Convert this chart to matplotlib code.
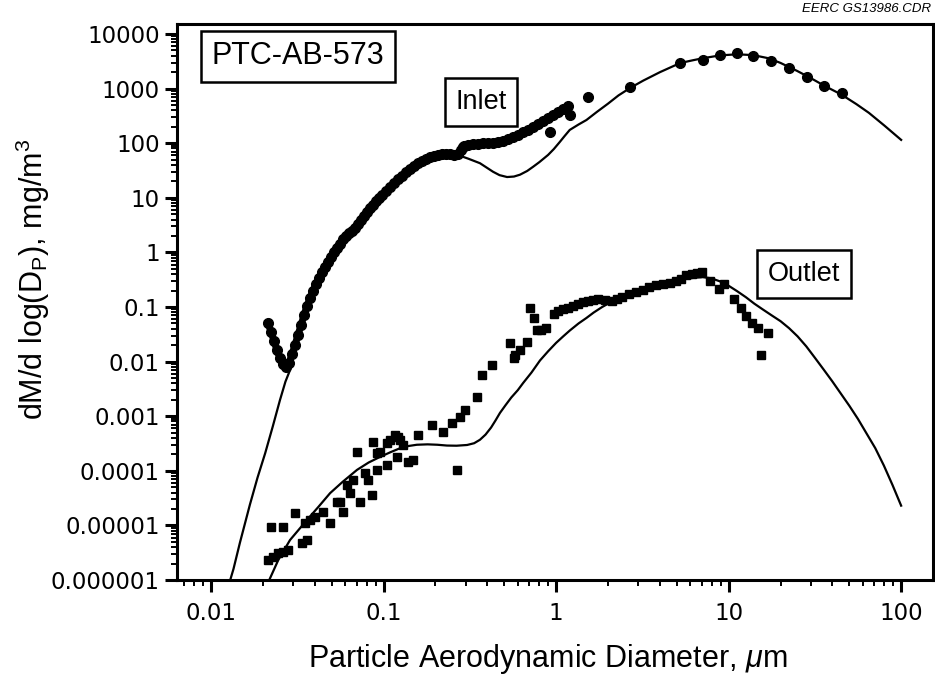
import matplotlib
matplotlib.use('Agg')
import matplotlib.pyplot as plt
from matplotlib.ticker import FixedLocator, FixedFormatter, LogLocator, NullFormatter

plt.rcParams['font.family'] = ['Liberation Sans', 'DejaVu Sans']
plt.rcParams['mathtext.fontset'] = 'custom'
plt.rcParams['mathtext.rm'] = 'Liberation Sans'
plt.rcParams['mathtext.it'] = 'Liberation Sans:italic'

# inlet - SMPS scan (um, mg/m3)
inlet_smps_d = [0.0214, 0.0223, 0.0232, 0.0241, 0.0251, 0.0261, 0.0272, 0.0283, 0.0295, 0.0307,
                0.0319, 0.0333, 0.0346, 0.0360, 0.0375, 0.0390, 0.0406, 0.0423, 0.0440, 0.0458,
                0.0477, 0.0496, 0.0516, 0.0537, 0.0559, 0.0582, 0.0606, 0.0631, 0.0657, 0.0684,
                0.0712, 0.0741, 0.0771, 0.0802, 0.0835, 0.0869, 0.0905, 0.0942, 0.0980, 0.103,
                0.109, 0.115, 0.121, 0.128, 0.135, 0.143, 0.150, 0.158, 0.167, 0.176,
                0.186, 0.196, 0.207, 0.218, 0.230, 0.243, 0.256, 0.270, 0.281, 0.293]
inlet_smps_v = [0.0509, 0.0348, 0.0238, 0.0163, 0.0116, 0.00904, 0.00796, 0.00942, 0.0138, 0.0201,
                0.0307, 0.0468, 0.0713, 0.104, 0.146, 0.196, 0.264, 0.340, 0.438, 0.541,
                0.667, 0.824, 1.02, 1.20, 1.43, 1.76, 2.00, 2.27, 2.47, 2.80,
                3.31, 3.92, 4.65, 5.49, 6.51, 7.38, 8.73, 9.91, 11.2, 13.3,
                15.8, 18.7, 22.1, 25.1, 29.7, 33.7, 38.2, 43.4, 47.2, 51.4,
                55.9, 58.3, 60.8, 63.4, 63.4, 63.4, 60.8, 63.4, 75.0, 88.9]

# inlet - APS scan
inlet_aps_d = [0.289, 0.309, 0.330, 0.353, 0.378, 0.403, 0.431, 0.461, 0.493, 0.527,
               0.563, 0.602, 0.644, 0.689, 0.736, 0.787, 0.841, 0.899, 0.962, 1.03,
               1.10, 1.17]
inlet_aps_v = [85.1, 92.7, 96.6, 96.6, 101, 101, 101, 105, 110, 119,
               130, 141, 160, 175, 198, 225, 255, 290, 328, 372,
               423, 480]

# inlet - impactor stages
inlet_imp_d = [0.92, 1.2, 1.53, 2.69, 5.24, 7.1, 8.9, 11.2, 13.9, 17.6, 22.4, 28.5, 35.8, 45.5]
inlet_imp_v = [160, 330, 701, 1070, 2940, 3300, 4100, 4480, 3950, 3200, 2380, 1630, 1120, 835]

# inlet - fitted distribution
inlet_fit_d = [0.0122, 0.0135, 0.0147, 0.0168, 0.0186, 0.0206, 0.0228, 0.0251, 0.0270, 0.0287,
               0.033, 0.037, 0.042, 0.050, 0.058, 0.068, 0.080, 0.090, 0.100, 0.115,
               0.130, 0.145, 0.160, 0.180, 0.200, 0.220, 0.240, 0.260, 0.277, 0.310,
               0.362, 0.400, 0.431, 0.470, 0.520, 0.570, 0.618, 0.680, 0.736, 0.800,
               0.899, 0.970, 1.05, 1.12, 1.20, 1.35, 1.50, 1.72, 2.00, 2.30,
               2.69, 3.20, 4.00, 5.24, 6.20, 7.10, 8.90, 11.2, 13.9, 17.0,
               20.0, 25.0, 30.0, 36.0, 45.0, 55.0, 65.0, 80.0, 100.0]
inlet_fit_v = [5.4e-7, 1.6e-6, 4.8e-6, 2.4e-5, 7.5e-5, 2.1e-4, 6.5e-4, 1.98e-3, 4.3e-3, 7.0e-3,
               0.035, 0.12, 0.33, 0.85, 1.7, 3.0, 5.4, 8.3, 11.5, 17.5,
               25, 33, 42, 50, 56, 60, 61, 61, 59, 52,
               43, 35, 30, 26, 24, 24.5, 26.5, 31, 37, 45,
               61, 78, 105, 135, 175, 220, 266, 372, 530, 750,
               1030, 1400, 2000, 2940, 3300, 3600, 4050, 4250, 4100, 3600,
               2950, 2100, 1550, 1120, 780, 520, 360, 210, 115]

# outlet - measured
outlet_d = [0.0214, 0.0229, 0.0245, 0.0261, 0.0279, 0.0223, 0.0261, 0.0307, 0.0337, 0.0360,
            0.0351, 0.0375, 0.0401, 0.0446, 0.0490, 0.0537, 0.0560, 0.0582, 0.0614, 0.0665,
            0.0640, 0.0731, 0.0702, 0.0781, 0.0813, 0.0858, 0.0869, 0.0917, 0.0955, 0.0917,
            0.1047, 0.109, 0.1047, 0.1166, 0.1213, 0.1247, 0.1197, 0.1297, 0.1387, 0.1483,
            0.1585, 0.191, 0.221, 0.249, 0.267, 0.277, 0.297, 0.348, 0.372, 0.425,
            0.541, 0.578, 0.618, 0.679, 0.571, 0.706, 0.747, 0.776, 0.818, 0.875,
            0.973, 1.028, 1.10, 1.175, 1.26, 1.343, 1.44, 1.534, 1.64, 1.75,
            1.92, 2.11, 2.26, 2.42, 2.65, 2.91, 3.17, 3.46, 3.80, 4.17,
            4.55, 4.96, 5.30, 5.67, 6.10, 6.56, 7.02, 7.81, 8.81, 9.42,
            10.8, 11.8, 12.6, 13.7, 14.8, 16.9, 15.4]
outlet_v = [2.3e-6, 2.6e-6, 3.1e-6, 3.3e-6, 3.5e-6, 9.3e-6, 9.3e-6, 1.69e-5, 4.8e-6, 5.4e-6,
            1.11e-5, 1.26e-5, 1.43e-5, 1.76e-5, 1.11e-5, 2.7e-5, 2.7e-5, 1.76e-5, 5.5e-5, 6.8e-5,
            3.9e-5, 2.7e-5, 2.2e-4, 9.1e-5, 6.8e-5, 3.6e-5, 3.4e-4, 2.1e-4, 2.2e-4, 1.03e-4,
            3.2e-4, 3.7e-4, 1.28e-4, 4.5e-4, 4.2e-4, 3.7e-4, 1.8e-4, 3.0e-4, 1.45e-4, 1.58e-4,
            4.5e-4, 6.9e-4, 5.1e-4, 7.5e-4, 1.03e-4, 9.7e-4, 1.3e-3, 2.25e-3, 5.7e-3, 8.7e-3,
            0.0219, 0.0132, 0.0163, 0.0229, 0.0116, 0.096, 0.063, 0.038, 0.038, 0.041,
            0.0745, 0.0845, 0.090, 0.096, 0.105, 0.113, 0.121, 0.129, 0.135, 0.140,
            0.135, 0.130, 0.140, 0.152, 0.170, 0.188, 0.205, 0.232, 0.250, 0.264,
            0.280, 0.299, 0.320, 0.386, 0.400, 0.420, 0.438, 0.299, 0.214, 0.264,
            0.140, 0.096, 0.0684, 0.051, 0.041, 0.0334, 0.0132]

# outlet - fitted distribution
outlet_fit_d = [0.0205, 0.0245, 0.0287, 0.036, 0.042, 0.049, 0.058, 0.0702, 0.082, 0.0955,
                0.110, 0.125, 0.140, 0.156, 0.180, 0.205, 0.233, 0.265, 0.305, 0.335,
                0.362, 0.390, 0.420, 0.445, 0.473, 0.510, 0.550, 0.600, 0.644, 0.720,
                0.807, 0.900, 1.00, 1.10, 1.20, 1.35, 1.50, 1.65, 1.85, 2.10,
                2.40, 2.75, 3.16, 3.70, 4.30, 5.00, 5.68, 6.40, 7.08, 7.94,
                8.90, 10.0, 11.2, 12.6, 14.1, 15.8, 17.8, 20.0, 22.4, 25.1,
                28.2, 31.6, 35.5, 39.8, 44.7, 50.1, 56.2, 63.1, 70.8, 79.4,
                89.1, 100.0]
outlet_fit_v = [6.6e-7, 2.3e-6, 5.4e-6, 1.26e-5, 2.2e-5, 3.9e-5, 6.3e-5, 1.04e-4, 1.42e-4, 1.8e-4,
                2.2e-4, 2.6e-4, 2.85e-4, 3.0e-4, 3.05e-4, 3.0e-4, 2.9e-4, 2.88e-4, 2.97e-4, 3.2e-4,
                3.7e-4, 4.6e-4, 6.2e-4, 8.3e-4, 1.15e-3, 1.6e-3, 2.2e-3, 3.0e-3, 4.05e-3, 6.3e-3,
                0.0105, 0.0155, 0.022, 0.029, 0.037, 0.050, 0.063, 0.079, 0.100, 0.125,
                0.150, 0.180, 0.212, 0.245, 0.275, 0.305, 0.328, 0.345, 0.352, 0.335,
                0.295, 0.245, 0.195, 0.151, 0.115, 0.090, 0.070, 0.055, 0.041, 0.029,
                0.019, 0.0118, 0.0072, 0.0044, 0.0026, 1.55e-3, 8.9e-4, 4.8e-4, 2.6e-4, 1.25e-4,
                5.5e-5, 2.3e-5]

x_ticks = [0.01, 0.1, 1, 10, 100]
x_labels = ['0.01', '0.1', '1', '10', '100']
y_ticks = [1e-6, 1e-5, 1e-4, 1e-3, 1e-2, 1e-1, 1, 10, 100, 1000, 10000]
y_labels = ['0.000001', '0.00001', '0.0001', '0.001', '0.01', '0.1', '1', '10', '100', '1000', '10000']

fig = plt.figure(figsize=(9.35, 6.78), dpi=100)
ax = fig.add_axes([177/935, 1 - 580/678, (933 - 177)/935, (580 - 24)/678])
ax.set_xscale('log')
ax.set_yscale('log')

# fitted curves
ax.plot(inlet_fit_d, inlet_fit_v, color='black', lw=1.6, zorder=2)
ax.plot(outlet_fit_d, outlet_fit_v, color='black', lw=1.6, zorder=2)

# inlet measurements
ax.plot(inlet_smps_d, inlet_smps_v, color='black', lw=5, marker='o', ms=7, zorder=3)
ax.plot(inlet_aps_d, inlet_aps_v, color='black', lw=5, marker='o', ms=7, zorder=3)
ax.plot(inlet_imp_d, inlet_imp_v, ls='none', color='black', marker='o', ms=7, zorder=3)

# outlet measurements
ax.plot(outlet_d, outlet_v, ls='none', color='black', marker='s', ms=5.5, zorder=3)

ax.set_xlim(0.00635, 153)
ax.set_ylim(1e-6, 15240)

ax.xaxis.set_major_locator(FixedLocator(x_ticks))
ax.xaxis.set_major_formatter(FixedFormatter(x_labels))
ax.yaxis.set_major_locator(FixedLocator(y_ticks))
ax.yaxis.set_major_formatter(FixedFormatter(y_labels))
ax.xaxis.set_minor_locator(LogLocator(base=10, subs=range(2, 10), numticks=30))
ax.yaxis.set_minor_locator(LogLocator(base=10, subs=range(2, 10), numticks=30))
ax.xaxis.set_minor_formatter(NullFormatter())
ax.yaxis.set_minor_formatter(NullFormatter())

ax.tick_params(which='major', direction='out', length=8.5, width=2.2)
ax.tick_params(which='minor', direction='out', length=4.5, width=1.4)
ax.tick_params(axis='x', which='major', pad=7)
ax.tick_params(axis='y', which='major', pad=4)
for lbl in ax.get_xticklabels() + ax.get_yticklabels():
    lbl.set_fontfamily('DejaVu Sans')
    lbl.set_fontsize(16.5)
for sp in ax.spines.values():
    sp.set_linewidth(2.2)

ax.set_xlabel(r'Particle Aerodynamic Diameter, $\mu$m', fontsize=22)
ax.xaxis.set_label_coords(0.49, -0.1115)
ax.set_ylabel(r'dM/d log(D$_\mathrm{P}$), mg/m$^\mathrm{3}$', fontsize=22)
ax.yaxis.set_label_coords(-0.165, 0.54)

ax.text(0.160, 0.942, 'PTC-AB-573', transform=ax.transAxes, fontsize=22, ha='center', va='center',
        bbox=dict(boxstyle='square,pad=0.35', facecolor='white', edgecolor='black', linewidth=1.8))
ax.text((481 - 177)/756, (580 - 102)/556, 'Inlet', transform=ax.transAxes, fontsize=19.5,
        ha='center', va='center',
        bbox=dict(boxstyle='square,pad=0.4', facecolor='white', edgecolor='black', linewidth=1.8))
ax.text((804 - 177)/756, (580 - 274)/556, 'Outlet', transform=ax.transAxes, fontsize=19.5,
        ha='center', va='center',
        bbox=dict(boxstyle='square,pad=0.4', facecolor='white', edgecolor='black', linewidth=1.8))

fig.text(931/935, 1 - 9/678, 'EERC GS13986.CDR', fontsize=9.5, style='italic',
         ha='right', va='center')

fig.savefig('out.png', dpi=100)
